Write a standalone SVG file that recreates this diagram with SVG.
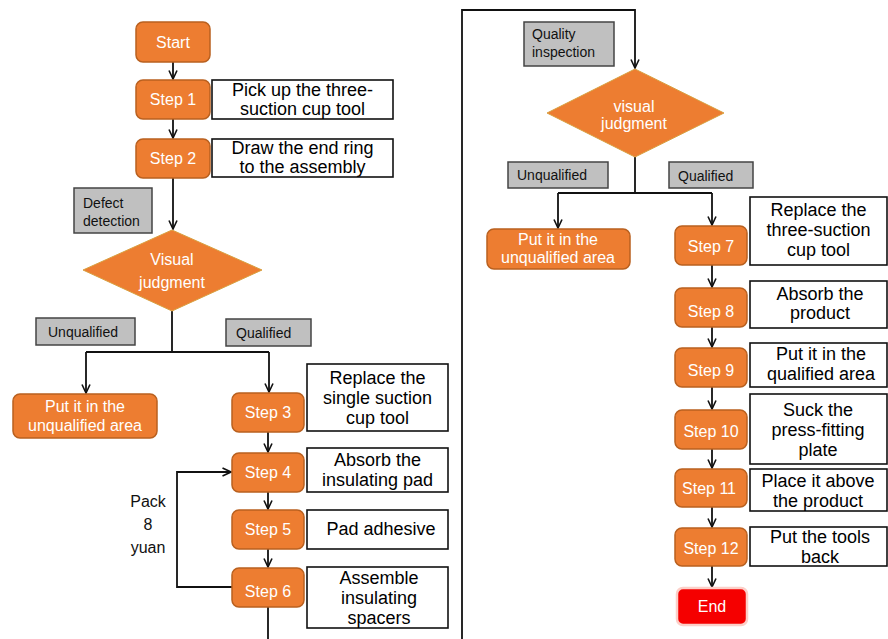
<svg xmlns="http://www.w3.org/2000/svg" width="888" height="639" viewBox="0 0 888 639">
<defs>
<marker id="arr" viewBox="0 0 10 10" refX="9.5" refY="5" markerWidth="10" markerHeight="10" markerUnits="userSpaceOnUse" orient="auto">
<path d="M1,1 L9.5,5 L1,9" fill="none" stroke="#111" stroke-width="1.6"/>
</marker>
</defs>
<style>
text{font-family:"Liberation Sans",Arial,sans-serif}
.st{fill:#ED7D31;stroke:#B9601F;stroke-width:1.5}
.stt{fill:#fff;font-size:16px;text-anchor:middle}
.tb{fill:#fff;stroke:#111;stroke-width:1.6}
.tbt{fill:#000;font-size:18px;text-anchor:middle}
.gb{fill:#C0C0C0;stroke:#444;stroke-width:1.5}
.gbt{fill:#111;font-size:14px}
.dm{fill:#ED7D31;stroke:#D8A040;stroke-width:1}
.ln{fill:none;stroke:#111;stroke-width:1.8}
.end{fill:#F50000;stroke:#FCCFC8;stroke-width:2.5}
</style>
<rect width="888" height="639" fill="#fff"/>

<g id="connectors">
<path class="ln" d="M173,62 V79" marker-end="url(#arr)"/>
<path class="ln" d="M173,119 V138" marker-end="url(#arr)"/>
<path class="ln" d="M173,178 V229" marker-end="url(#arr)"/>
<path class="ln" d="M172,311 V352 M86,352 H269"/>
<path class="ln" d="M86,352 V393" marker-end="url(#arr)"/>
<path class="ln" d="M269,352 V392" marker-end="url(#arr)"/>
<path class="ln" d="M268,432 V452" marker-end="url(#arr)"/>
<path class="ln" d="M268,492 V509" marker-end="url(#arr)"/>
<path class="ln" d="M268,549 V567" marker-end="url(#arr)"/>
<path class="ln" d="M268,607 V639"/>
<path class="ln" d="M232,587 H177 V472 H231" marker-end="url(#arr)"/>
<path class="ln" d="M462,639 V10 H635 V68" marker-end="url(#arr)"/>
<path class="ln" d="M635,157 V193 M558,193 H712"/>
<path class="ln" d="M558,193 V228" marker-end="url(#arr)"/>
<path class="ln" d="M712,193 V225" marker-end="url(#arr)"/>
<path class="ln" d="M712,265 V287" marker-end="url(#arr)"/>
<path class="ln" d="M712,327 V347" marker-end="url(#arr)"/>
<path class="ln" d="M712,387 V409" marker-end="url(#arr)"/>
<path class="ln" d="M712,449 V468" marker-end="url(#arr)"/>
<path class="ln" d="M712,507 V527" marker-end="url(#arr)"/>
<path class="ln" d="M712,566 V587" marker-end="url(#arr)"/>
</g>

<g id="start"><rect class="st" x="136" y="22" width="74" height="40" rx="7"/><text class="stt" x="173" y="48">Start</text></g>
<g id="step1"><rect class="st" x="136" y="80" width="74" height="39" rx="7"/><text class="stt" x="173" y="105">Step 1</text></g>
<g id="t1"><rect class="tb" x="212" y="80" width="181" height="39"/><text class="tbt" x="302.5" y="96">Pick up the three-</text><text class="tbt" x="302.5" y="115">suction cup tool</text></g>
<g id="step2"><rect class="st" x="136" y="139" width="74" height="39" rx="7"/><text class="stt" x="173" y="164">Step 2</text></g>
<g id="t2"><rect class="tb" x="212" y="139" width="181" height="38"/><text class="tbt" x="302.5" y="154">Draw the end ring</text><text class="tbt" x="302.5" y="173">to the assembly</text></g>

<g id="defect"><rect class="gb" x="74" y="188" width="78" height="45"/><text class="gbt" x="83" y="208">Defect</text><text class="gbt" x="83" y="226">detection</text></g>
<g id="judge1"><polygon class="dm" points="172,230 262,270 172,311 83,270"/><text class="stt" x="172" y="265">Visual</text><text class="stt" x="172" y="288">judgment</text></g>
<g id="unq1"><rect class="gb" x="36" y="318" width="99" height="27"/><text class="gbt" x="48" y="337">Unqualified</text></g>
<g id="q1"><rect class="gb" x="226" y="319" width="85" height="27"/><text class="gbt" x="236" y="338">Qualified</text></g>
<g id="put1"><rect class="st" x="13" y="394" width="144" height="44" rx="7"/><text class="stt" x="85" y="412">Put it in the</text><text class="stt" x="85" y="431">unqualified area</text></g>

<g id="step3"><rect class="st" x="232" y="393" width="72" height="39" rx="7"/><text class="stt" x="268" y="418">Step 3</text></g>
<g id="t3"><rect class="tb" x="307" y="364" width="141" height="67"/><text class="tbt" x="377.5" y="384">Replace the</text><text class="tbt" x="377.5" y="404">single suction</text><text class="tbt" x="377.5" y="424">cup tool</text></g>
<g id="step4"><rect class="st" x="232" y="453" width="72" height="39" rx="7"/><text class="stt" x="268" y="478">Step 4</text></g>
<g id="t4"><rect class="tb" x="307" y="448" width="141" height="44"/><text class="tbt" x="377.5" y="466">Absorb the</text><text class="tbt" x="377.5" y="486">insulating pad</text></g>
<g id="step5"><rect class="st" x="232" y="510" width="72" height="39" rx="7"/><text class="stt" x="268" y="535">Step 5</text></g>
<g id="t5"><rect class="tb" x="307" y="510" width="141" height="39"/><text class="tbt" x="381" y="535">Pad adhesive</text></g>
<g id="step6"><rect class="st" x="232" y="568" width="72" height="39" rx="7"/><text class="stt" x="268" y="597">Step 6</text></g>
<g id="t6"><rect class="tb" x="307" y="567" width="141" height="61"/><text class="tbt" x="379" y="584">Assemble</text><text class="tbt" x="379" y="604">insulating</text><text class="tbt" x="379" y="624">spacers</text></g>
<g id="pack"><text class="gbt" style="font-size:16px" text-anchor="middle" x="148" y="507">Pack</text><text class="gbt" style="font-size:16px" text-anchor="middle" x="148" y="530">8</text><text class="gbt" style="font-size:16px" text-anchor="middle" x="148" y="553">yuan</text></g>

<g id="quality"><rect class="gb" x="524" y="22" width="90" height="44"/><text class="gbt" x="532" y="39">Quality</text><text class="gbt" x="532" y="57">inspection</text></g>
<g id="judge2"><polygon class="dm" points="635,69 724,113 635,157 547,113"/><text class="stt" x="634" y="112">visual</text><text class="stt" x="634" y="129">judgment</text></g>
<g id="unq2"><rect class="gb" x="508" y="162" width="100" height="26"/><text class="gbt" x="517" y="180">Unqualified</text></g>
<g id="q2"><rect class="gb" x="669" y="162" width="84" height="26"/><text class="gbt" x="678" y="181">Qualified</text></g>
<g id="put2"><rect class="st" x="487" y="229" width="143" height="40" rx="7"/><text class="stt" x="558" y="245">Put it in the</text><text class="stt" x="558" y="263">unqualified area</text></g>

<g id="step7"><rect class="st" x="675" y="226" width="72" height="39" rx="7"/><text class="stt" x="711" y="252">Step 7</text></g>
<g id="t7"><rect class="tb" x="750" y="197" width="137" height="68"/><text class="tbt" x="818.5" y="216">Replace the</text><text class="tbt" x="818.5" y="236">three-suction</text><text class="tbt" x="818.5" y="256">cup tool</text></g>
<g id="step8"><rect class="st" x="675" y="288" width="72" height="39" rx="7"/><text class="stt" x="711" y="317">Step 8</text></g>
<g id="t8"><rect class="tb" x="750" y="281" width="137" height="47"/><text class="tbt" x="820" y="300">Absorb the</text><text class="tbt" x="820" y="319">product</text></g>
<g id="step9"><rect class="st" x="675" y="348" width="72" height="39" rx="7"/><text class="stt" x="711" y="376">Step 9</text></g>
<g id="t9"><rect class="tb" x="750" y="343" width="137" height="44"/><text class="tbt" x="821" y="360">Put it in the</text><text class="tbt" x="821" y="380">qualified area</text></g>
<g id="step10"><rect class="st" x="675" y="410" width="72" height="39" rx="7"/><text class="stt" x="711" y="437">Step 10</text></g>
<g id="t10"><rect class="tb" x="750" y="394" width="137" height="70"/><text class="tbt" x="818" y="416">Suck the</text><text class="tbt" x="818" y="436">press-fitting</text><text class="tbt" x="818" y="456">plate</text></g>
<g id="step11"><rect class="st" x="675" y="469" width="72" height="38" rx="7"/><text class="stt" x="709" y="494">Step 11</text></g>
<g id="t11"><rect class="tb" x="750" y="469" width="137" height="42"/><text class="tbt" x="818" y="487">Place it above</text><text class="tbt" x="818" y="507">the product</text></g>
<g id="step12"><rect class="st" x="675" y="528" width="72" height="38" rx="7"/><text class="stt" x="711" y="554">Step 12</text></g>
<g id="t12"><rect class="tb" x="750" y="527" width="137" height="39"/><text class="tbt" x="820" y="543">Put the tools</text><text class="tbt" x="820" y="563">back</text></g>
<g id="end"><rect class="end" x="677" y="588" width="70" height="37" rx="6"/><text class="stt" x="712" y="612">End</text></g>
</svg>
